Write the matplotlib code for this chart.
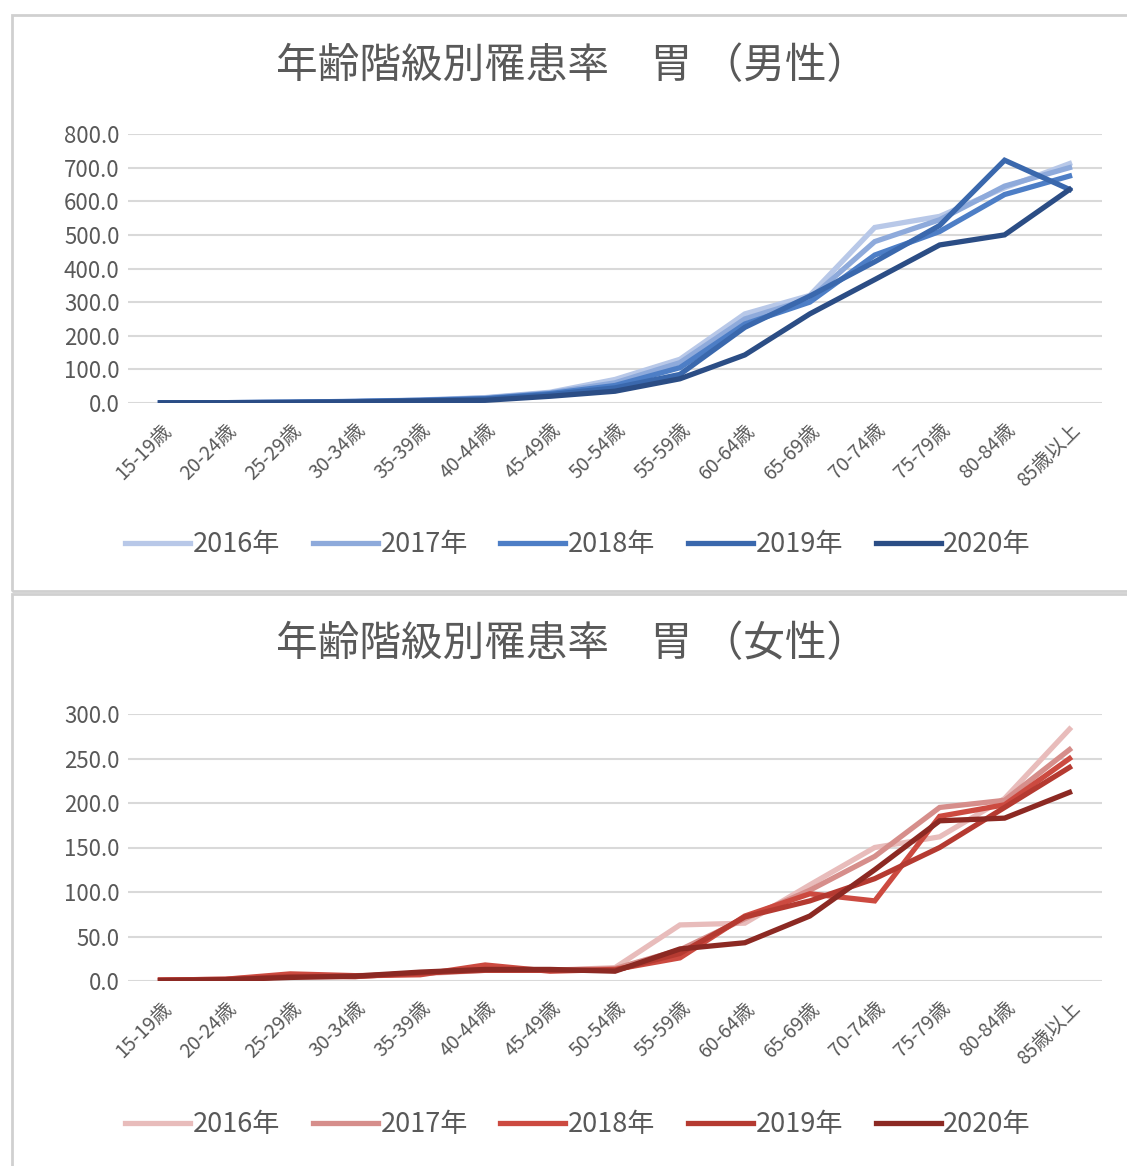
import numpy as np
import matplotlib
matplotlib.use("Agg")
import matplotlib.pyplot as plt
from matplotlib.patches import Rectangle

plt.rcParams['font.family'] = ['Noto Sans CJK JP', 'DejaVu Sans']

# age groups
ages = ['15-19歳', '20-24歳', '25-29歳', '30-34歳', '35-39歳', '40-44歳', '45-49歳',
        '50-54歳', '55-59歳', '60-64歳', '65-69歳', '70-74歳', '75-79歳', '80-84歳', '85歳以上']
years = ['2016年', '2017年', '2018年', '2019年', '2020年']

# stomach cancer incidence, male
male_2016 = [0.5, 1.0, 2.5, 5.0, 9.0, 16.0, 32.0, 70.0, 130.0, 265.0, 320.0, 522.0, 555.0, 640.0, 712.0]
male_2017 = [0.5, 1.0, 2.5, 5.0, 8.0, 15.0, 30.0, 60.0, 120.0, 250.0, 310.0, 480.0, 545.0, 645.0, 700.0]
male_2018 = [0.5, 1.0, 2.0, 4.5, 8.0, 13.0, 28.0, 52.0, 105.0, 235.0, 300.0, 440.0, 510.0, 620.0, 675.0]
male_2019 = [0.5, 1.0, 2.0, 4.0, 7.0, 12.0, 25.0, 45.0, 85.0, 225.0, 318.0, 420.0, 528.0, 722.0, 635.0]
male_2020 = [0.5, 0.8, 1.5, 3.0, 6.0, 8.0, 20.0, 35.0, 72.0, 143.0, 265.0, 367.0, 470.0, 500.0, 635.0]

# stomach cancer incidence, female
female_2016 = [1.0, 2.0, 5.0, 5.0, 8.0, 12.0, 12.0, 15.0, 63.0, 65.0, 108.0, 150.0, 162.0, 205.0, 283.0]
female_2017 = [1.0, 2.0, 6.0, 5.0, 9.0, 13.0, 12.0, 14.0, 35.0, 70.0, 102.0, 140.0, 195.0, 203.0, 260.0]
female_2018 = [1.0, 2.0, 8.0, 6.0, 7.0, 18.0, 11.0, 13.0, 26.0, 73.0, 98.0, 90.0, 185.0, 198.0, 250.0]
female_2019 = [1.0, 1.5, 5.0, 5.0, 9.0, 12.0, 12.0, 12.0, 31.0, 72.0, 90.0, 115.0, 150.0, 195.0, 240.0]
female_2020 = [0.5, 1.5, 4.0, 5.5, 10.0, 13.0, 13.0, 11.0, 36.0, 43.0, 73.0, 125.0, 180.0, 183.0, 212.0]

male = [male_2016, male_2017, male_2018, male_2019, male_2020]
female = [female_2016, female_2017, female_2018, female_2019, female_2020]

blues = ['#b8c8e8', '#8eaadb', '#4d7ec6', '#3a68ad', '#2b4d85']
reds = ['#e8bcbb', '#d68e8b', '#cc4a40', '#b53a31', '#8c2923']

txt = '#595959'
W, H = 1127, 1166
fig = plt.figure(figsize=(W / 100, H / 100), dpi=100)

# panel borders
for (y0, y1) in [(15, 591), (594, 1170)]:
    fig.patches.append(Rectangle((12 / W, 1 - y1 / H), 1.1, (y1 - y0) / H,
                                 transform=fig.transFigure, fill=False,
                                 edgecolor='#d0d0d0', lw=2))


def panel(rect, data, colors, ymax, step, title, title_y, leg_y):
    ax = fig.add_axes(rect)
    x = np.arange(len(ages))
    for vals, c, lab in zip(data, colors, years):
        ax.plot(x, vals, color=c, lw=3.8, label=lab, solid_joinstyle='miter')
    ax.set_xlim(-0.5, len(ages) - 0.5)
    ax.set_ylim(0, ymax)
    ax.set_yticks(np.arange(0, ymax + 1, step))
    ax.set_yticklabels([f'{v:.1f}' for v in np.arange(0, ymax + 1, step)],
                       fontsize=16, color=txt)
    ax.set_xticks(x)
    ax.set_xticklabels(ages, rotation=45, ha='right', rotation_mode='anchor',
                       fontsize=14, color=txt)
    ax.tick_params(axis='x', length=0, pad=12)
    ax.tick_params(axis='y', length=0, pad=6)
    ax.grid(axis='y', color='#d9d9d9', lw=1.5)
    ax.set_axisbelow(True)
    for s in ax.spines.values():
        s.set_visible(False)
    fig.text(572 / W, 1 - title_y / H, title, ha='center', va='center',
             fontsize=30, color=txt)
    ax.legend(loc='center', bbox_to_anchor=(578 / W, 1 - leg_y / H),
              bbox_transform=fig.transFigure, ncol=5, frameon=False,
              fontsize=19.5, handlelength=2.4, handletextpad=0.1,
              columnspacing=1.2, labelcolor=txt)
    return ax


panel([128 / W, 1 - 403 / H, 974 / W, 269 / H], male, blues, 800, 100,
      '年齢階級別罹患率　胃 （男性）', 67, 545)
panel([128 / W, 1 - 981 / H, 974 / W, 267 / H], female, reds, 300, 50,
      '年齢階級別罹患率　胃 （女性）', 645, 1125)

fig.savefig('out.png', dpi=100)
